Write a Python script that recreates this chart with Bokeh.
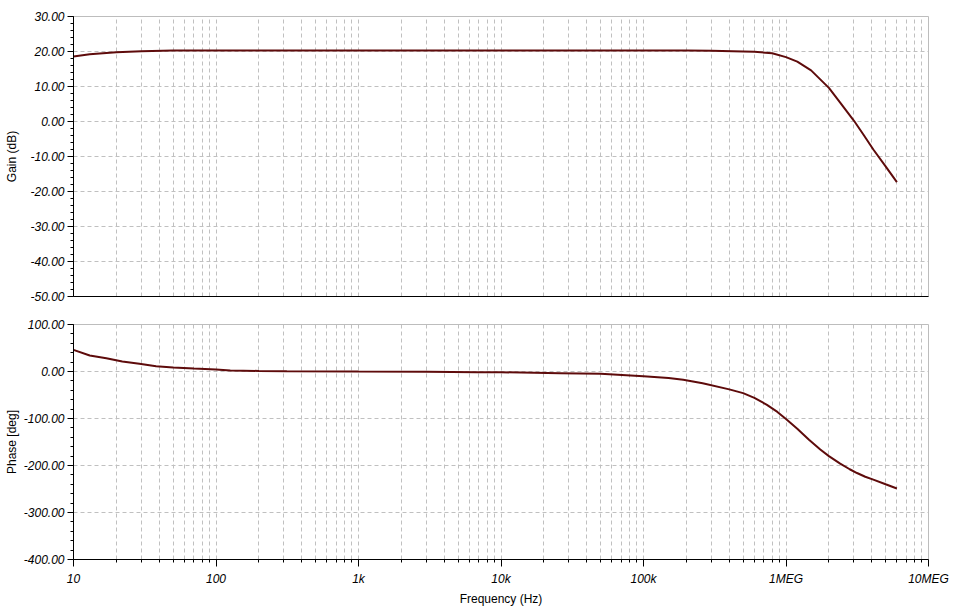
from bokeh.plotting import figure
from bokeh.layouts import column
from bokeh.models import (Range1d, FixedTicker, SingleIntervalTicker,
                          NumeralTickFormatter, CustomJSTickFormatter)
from bokeh.embed import file_html
from bokeh.resources import INLINE

# ---- data ----
gain_freq = [10, 13, 17, 20, 30, 50, 100, 1e3, 1e4, 1e5, 2e5, 3e5, 5e5, 6e5,
             8e5, 1e6, 1.2e6, 1.5e6, 2e6, 2.4e6, 3e6, 3.5e6, 4.1e6, 5e6, 6e6]
gain_db = [18.6, 19.2, 19.6, 19.8, 20.1, 20.3, 20.3, 20.3, 20.3, 20.3, 20.3,
           20.2, 20.0, 19.9, 19.5, 18.4, 17.1, 14.6, 9.6, 5.4, 0.2, -3.8,
           -8.0, -12.8, -17.3]

phase_freq = [10, 13, 17, 22, 29, 38, 50, 70, 100, 126, 200, 314, 1e3, 3e3,
              6.8e3, 1e4, 2.6e4, 5e4, 1e5, 1.5e5, 1.9e5, 2.6e5, 4e5, 5e5,
              6e5, 7.35e5, 8.7e5, 1e6, 1.2e6, 1.45e6, 1.74e6, 2e6, 2.4e6,
              2.8e6, 3.15e6, 3.6e6, 4.1e6, 5e6, 6e6]
phase_deg = [46, 34, 28.4, 21.3, 16.3, 11.3, 8.5, 6.4, 4.5, 2.0, 1.2, 0.7,
             0.0, -0.5, -1.4, -1.6, -3.5, -5.0, -10.0, -14.0, -17.7, -25.0,
             -38.0, -46.0, -56.0, -71.0, -86.0, -101.0, -122.0, -145.0,
             -166.0, -180.0, -196.0, -208.0, -216.0, -224.0, -230.0, -240.0,
             -249.0]

x_tick_values = [10, 100, 1e3, 1e4, 1e5, 1e6, 1e7]
x_tick_labels = ["10", "100", "1k", "10k", "100k", "1MEG", "10MEG"]
x_minor_values = [m * d for d in x_tick_values[:-1] for m in range(2, 10)]

LINE_COLOR = "#5e0b0b"
GRID_COLOR = "#c0c0c0"
FONT = "Liberation Sans"


def style(p, ylabel, standoff):
    p.outline_line_color = "#bdbdbd"
    p.background_fill_color = "white"
    p.border_fill_color = "white"
    for g in (p.xgrid[0], p.ygrid[0]):
        g.grid_line_color = GRID_COLOR
        g.grid_line_dash = "4 3"
        g.grid_line_width = 1
    p.xgrid[0].minor_grid_line_color = GRID_COLOR
    p.xgrid[0].minor_grid_line_dash = "4 3"
    ax = p.yaxis[0]
    ax.axis_label = ylabel
    ax.axis_label_text_font = FONT
    ax.axis_label_text_font_size = "12px"
    ax.axis_label_text_font_style = "normal"
    ax.axis_label_text_color = "black"
    ax.axis_label_standoff = standoff
    ax.major_label_text_font = FONT
    ax.major_label_text_font_size = "12px"
    ax.major_label_text_font_style = "italic"
    ax.major_label_text_color = "black"
    ax.major_label_standoff = 3
    ax.major_tick_in = 0
    ax.major_tick_out = 6
    ax.minor_tick_in = 0
    ax.minor_tick_out = 3
    ax.axis_line_color = "black"
    ax.major_tick_line_color = "black"
    ax.minor_tick_line_color = "black"
    ax.formatter = NumeralTickFormatter(format="0.00")
    xa = p.xaxis[0]
    xa.ticker = FixedTicker(ticks=x_tick_values, minor_ticks=x_minor_values)
    xa.axis_line_color = "black"
    xa.major_tick_in = 0
    xa.minor_tick_in = 0
    xa.major_tick_line_color = "black"
    xa.minor_tick_line_color = "black"


# ---- gain plot ----
p1 = figure(frame_width=855, frame_height=280, x_axis_type="log",
            x_range=Range1d(10, 1e7), y_range=Range1d(-50, 30),
            output_backend="svg", toolbar_location=None,
            min_border_left=73, min_border_right=26,
            min_border_top=16, min_border_bottom=14)
style(p1, "Gain (dB)", 8)
p1.yaxis[0].ticker = SingleIntervalTicker(interval=10, num_minor_ticks=5)
p1.xaxis[0].major_tick_out = 0
p1.xaxis[0].minor_tick_out = 0
p1.xaxis[0].formatter = CustomJSTickFormatter(code="return ''")
p1.line(gain_freq, gain_db, line_color=LINE_COLOR, line_width=2)

# ---- phase plot ----
p2 = figure(frame_width=855, frame_height=235, x_axis_type="log",
            x_range=p1.x_range, y_range=Range1d(-400, 100),
            output_backend="svg", toolbar_location=None,
            min_border_left=73, min_border_right=26,
            min_border_top=14, min_border_bottom=50)
style(p2, "Phase [deg]", 2)
p2.yaxis[0].ticker = SingleIntervalTicker(interval=100, num_minor_ticks=5)
xa = p2.xaxis[0]
xa.major_tick_out = 7
xa.minor_tick_out = 3
xa.major_label_overrides = {v: s for v, s in zip(x_tick_values, x_tick_labels)}
xa.major_label_text_font = FONT
xa.major_label_text_font_size = "12px"
xa.major_label_text_font_style = "italic"
xa.major_label_text_color = "black"
xa.major_label_standoff = 5
xa.axis_label = "Frequency (Hz)"
xa.axis_label_text_font = FONT
xa.axis_label_text_font_size = "12px"
xa.axis_label_text_font_style = "normal"
xa.axis_label_text_color = "black"
xa.axis_label_standoff = 3
p2.line(phase_freq, phase_deg, line_color=LINE_COLOR, line_width=2)

layout = column(p1, p2, spacing=0)
open("out.html", "w").write(file_html(layout, INLINE))
